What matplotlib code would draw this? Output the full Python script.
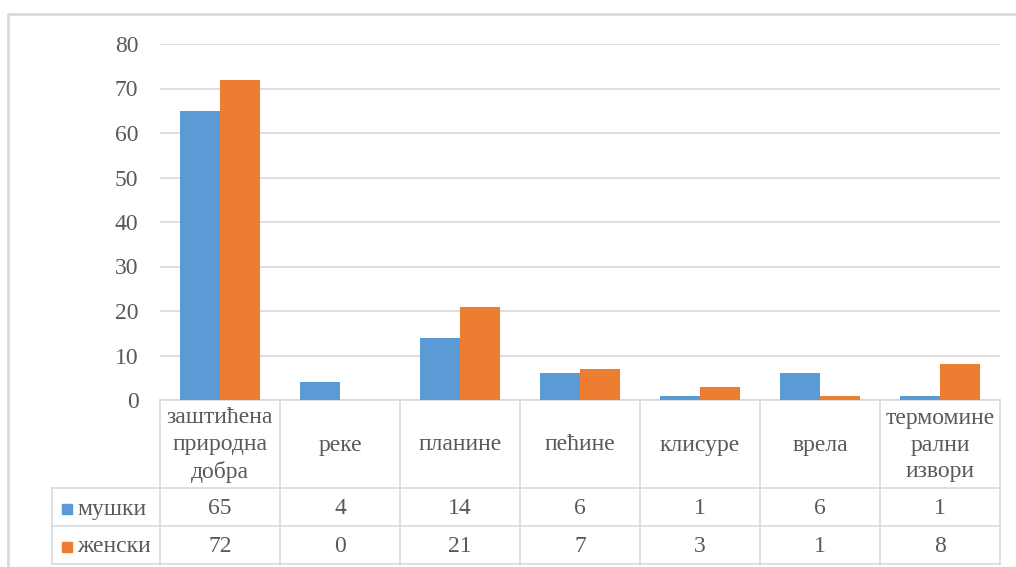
import matplotlib.pyplot as plt
import matplotlib.transforms as mtransforms
from matplotlib.patches import Rectangle
import numpy as np

plt.rcParams['font.family'] = ['Liberation Serif', 'DejaVu Serif']

categories = ["заштићена\nприродна\nдобра", "реке", "планине", "пећине",
              "клисуре", "врела", "термомине\nрални\nизвори"]
series_names = ["мушки", "женски"]
male = [65, 4, 14, 6, 1, 6, 1]
female = [72, 0, 21, 7, 3, 1, 8]
yticks = [0, 10, 20, 30, 40, 50, 60, 70, 80]

colors = ["#5B9BD5", "#ED7D31"]
text_color = "#595959"
grid_color = "#D9D9D9"
fs = 17

W, H = 1016, 567
fig = plt.figure(figsize=(W / 100, H / 100), dpi=100)


def fy(py):
    # pixel row (from top) -> figure fraction
    return (H - py) / H


ax = fig.add_axes([160 / W, fy(400), 840 / W, (400 - 44) / H])

x = np.arange(len(categories))
bw = 1 / 3
ax.bar(x - bw / 2, male, bw, color=colors[0], zorder=3)
ax.bar(x + bw / 2, female, bw, color=colors[1], zorder=3)

ax.set_xlim(-0.5, len(categories) - 0.5)
ax.set_ylim(0, 80)
ax.set_yticks(yticks)
ax.set_yticklabels([str(t) for t in yticks])
ax.set_xticks([])
ax.tick_params(axis='y', length=0, pad=15.5, labelsize=fs, labelcolor=text_color)
ax.grid(axis='y', color=grid_color, linewidth=1.2, zorder=0)
for s in ["top", "right", "left"]:
    ax.spines[s].set_visible(False)
ax.spines["bottom"].set_color(grid_color)
ax.spines["bottom"].set_linewidth(1.2)

# data table under the plot: x in data units, y in figure fraction
tr = mtransforms.blended_transform_factory(ax.transData, fig.transFigure)
left_x = -0.5 - 108 / 120
right_x = len(categories) - 0.5
row_tops = [400, 488, 526, 564]

line_kw = dict(transform=tr, color=grid_color, linewidth=1.2, clip_on=False)
for i in range(len(categories) + 1):
    xi = i - 0.5
    fig.add_artist(plt.Line2D([xi, xi], [fy(400), fy(564)], **line_kw))
fig.add_artist(plt.Line2D([left_x, left_x], [fy(488), fy(564)], **line_kw))
for py in row_tops[1:]:
    fig.add_artist(plt.Line2D([left_x, right_x], [fy(py), fy(py)], **line_kw))

for i, cat in enumerate(categories):
    fig.text(i, fy(445), cat, transform=tr, ha='center', va='center',
             fontsize=fs, color=text_color, linespacing=1.36)

for r, (name, vals) in enumerate(zip(series_names, [male, female])):
    yc = fy((row_tops[r + 1] + row_tops[r + 2]) / 2 + 2)
    fig.add_artist(Rectangle((62 / W, yc - 5 / H), 10 / W, 10 / H,
                             transform=fig.transFigure, color=colors[r]))
    fig.text(77 / W, yc, name, ha='left', va='center', fontsize=fs,
             color=text_color)
    for i, v in enumerate(vals):
        fig.text(i, yc, str(v), transform=tr, ha='center', va='center',
                 fontsize=fs, color=text_color)

# outer chart border
fig.add_artist(plt.Line2D([8 / W, 8 / W, 1.0], [0, fy(14), fy(14)],
                          transform=fig.transFigure, color=grid_color,
                          linewidth=2))

fig.savefig("out.png", dpi=100)
